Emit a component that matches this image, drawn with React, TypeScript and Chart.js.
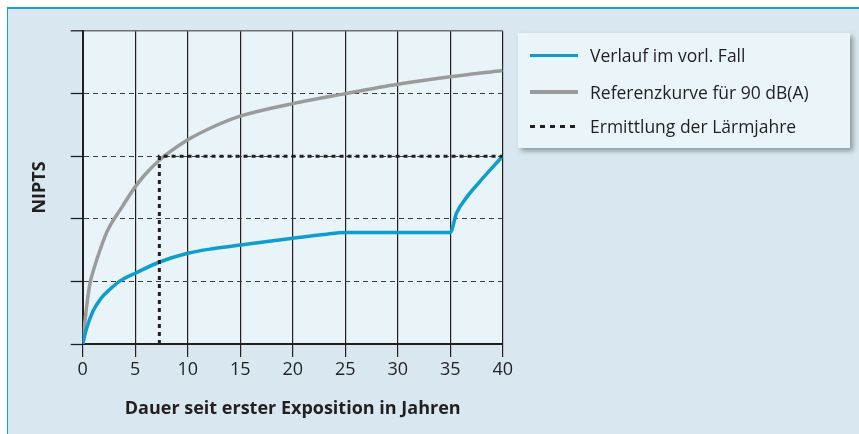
import React, { useEffect, useRef } from "react";
import { Chart, registerables } from "chart.js";

Chart.register(...registerables);

// ---- data ----
const xTicks = [0, 5, 10, 15, 20, 25, 30, 35, 40];

const blueYears = [0, 0.32, 0.96, 1.75, 2.7, 3.67, 5, 7.33, 10, 12.5, 15, 20, 23, 25, 30, 35, 35.6, 36.6, 37.8, 40];
const blueValues = [0, 0.22, 0.52, 0.73, 0.89, 1.02, 1.13, 1.31, 1.45, 1.525, 1.58, 1.69, 1.75, 1.78, 1.78, 1.78, 2.09, 2.35, 2.59, 3.0];

const grayYears = [0, 0.16, 0.64, 1.12, 1.75, 2.39, 3.67, 5, 5.9, 7.33, 9.9, 12.44, 15, 20, 25, 30, 35, 40];
const grayValues = [0, 0.28, 0.92, 1.23, 1.55, 1.82, 2.17, 2.51, 2.7, 2.94, 3.25, 3.47, 3.64, 3.84, 4.0, 4.15, 4.27, 4.37];

const dottedYears = [7.3, 7.3, 40];
const dottedValues = [0, 3, 3];

const legendLabels = ["Verlauf im vorl. Fall", "Referenzkurve für 90 dB(A)", "Ermittlung der Lärmjahre"];
const xTitle = "Dauer seit erster Exposition in Jahren";
const yTitle = "NIPTS";

const BLUE = "#0e9dcc";
const GRAY = "#9b9b9c";
const DARK = "#231f20";
const FONT = "'Open Sans', sans-serif";

const pts = (xs: number[], ys: number[]) => xs.map((x, i) => ({ x, y: ys[i] }));

const plotBg = {
  id: "plotBg",
  beforeDraw(chart: any) {
    const { ctx, chartArea } = chart;
    ctx.save();
    ctx.fillStyle = "#e9f4f9";
    ctx.fillRect(chartArea.left, chartArea.top, chartArea.right - chartArea.left, chartArea.bottom - chartArea.top);
    ctx.restore();
  },
};

export default function App() {
  const ref = useRef<HTMLCanvasElement>(null);

  useEffect(() => {
    if (!ref.current) return;
    const chart = new Chart(ref.current, {
      type: "line",
      data: {
        datasets: [
          {
            label: legendLabels[2],
            data: pts(dottedYears, dottedValues),
            borderColor: DARK,
            borderWidth: 3,
            borderDash: [4, 4],
            pointRadius: 0,
            tension: 0,
            order: 0,
          },
          {
            label: legendLabels[0],
            data: pts(blueYears, blueValues),
            borderColor: BLUE,
            borderWidth: 3.5,
            pointRadius: 0,
            cubicInterpolationMode: "monotone",
            order: 1,
          },
          {
            label: legendLabels[1],
            data: pts(grayYears, grayValues),
            borderColor: GRAY,
            borderWidth: 3.5,
            pointRadius: 0,
            cubicInterpolationMode: "monotone",
            order: 2,
          },
        ],
      },
      options: {
        responsive: false,
        animation: false,
        layout: { padding: { top: 31, right: 356.3, left: 0, bottom: 0 } },
        plugins: { legend: { display: false }, tooltip: { enabled: false } },
        scales: {
          x: {
            type: "linear",
            min: 0,
            max: 40,
            afterBuildTicks: (s: any) => {
              s.ticks = xTicks.map((v) => ({ value: v }));
            },
            afterFit: (s: any) => {
              s.height = 90;
            },
            ticks: { color: DARK, font: { family: FONT, size: 18 }, padding: 2, maxRotation: 0 },
            grid: { color: DARK, lineWidth: 1.2, tickLength: 13, tickColor: DARK, tickWidth: 1.2 },
            border: { display: true, color: DARK, width: 2 },
            title: {
              display: true,
              text: xTitle,
              color: DARK,
              font: { family: FONT, size: 18, weight: "bold" },
              padding: { top: 0, bottom: 14 },
            },
          },
          y: {
            type: "linear",
            min: 0,
            max: 5,
            ticks: { stepSize: 1, display: false },
            afterFit: (s: any) => {
              s.width = 82.7;
            },
            grid: {
              color: (c: any) => (c.tick && c.tick.value === 5 ? "#6f6f6f" : "#3d3d3d"),
              lineWidth: (c: any) => (c.tick && c.tick.value === 5 ? 1.6 : 1),
              tickLength: 12,
              tickColor: DARK,
              tickWidth: 1.3,
            },
            border: {
              display: true,
              color: DARK,
              width: 2,
              dash: (c: any) => (c.tick && c.tick.value > 0 && c.tick.value < 5 ? [5, 4] : []),
            },
            title: {
              display: true,
              text: yTitle,
              color: DARK,
              font: { family: FONT, size: 18, weight: "bold" },
              padding: { top: 29, bottom: 0 },
            },
          },
        },
      },
      plugins: [plotBg],
    } as any);
    return () => chart.destroy();
  }, []);

  const row = (i: number, top: number, sample: React.CSSProperties) => (
    <div key={i} style={{ position: "absolute", left: 0, top, width: 332, height: 24 }}>
      <div style={{ position: "absolute", left: 12, top: 11, width: 48, ...sample }} />
      <div
        style={{
          position: "absolute",
          left: 72,
          top: 0,
          lineHeight: "24px",
          fontSize: 17.5,
          fontFamily: FONT,
          color: DARK,
          whiteSpace: "nowrap",
        }}
      >
        {legendLabels[i]}
      </div>
    </div>
  );

  return (
    <div style={{ position: "fixed", left: 0, top: 0, width: 859, height: 434, overflow: "hidden", background: "#fff" }}>
      <div
        style={{
          position: "absolute",
          left: 7,
          top: 7,
          width: 900,
          height: 500,
          background: "#d9e8f0",
          borderTop: "2px solid #17a0d2",
          borderLeft: "1.5px solid #17a0d2",
          boxSizing: "border-box",
        }}
      />
      <canvas ref={ref} width={859} height={434} style={{ position: "absolute", left: 0, top: 0, width: 859, height: 434 }} />
      <div
        style={{
          position: "absolute",
          left: 518,
          top: 33,
          width: 332,
          height: 115,
          background: "#eaf5f9",
          boxShadow: "3px 3px 5px rgba(0,0,0,0.35)",
        }}
      >
        {row(0, 10, { height: 3, background: BLUE })}
        {row(1, 47, { height: 4, top: 10, background: GRAY })}
        {row(2, 81, {
          height: 2.5,
          background: `repeating-linear-gradient(to right, ${DARK} 0 5px, transparent 5px 10px)`,
        })}
      </div>
    </div>
  );
}
